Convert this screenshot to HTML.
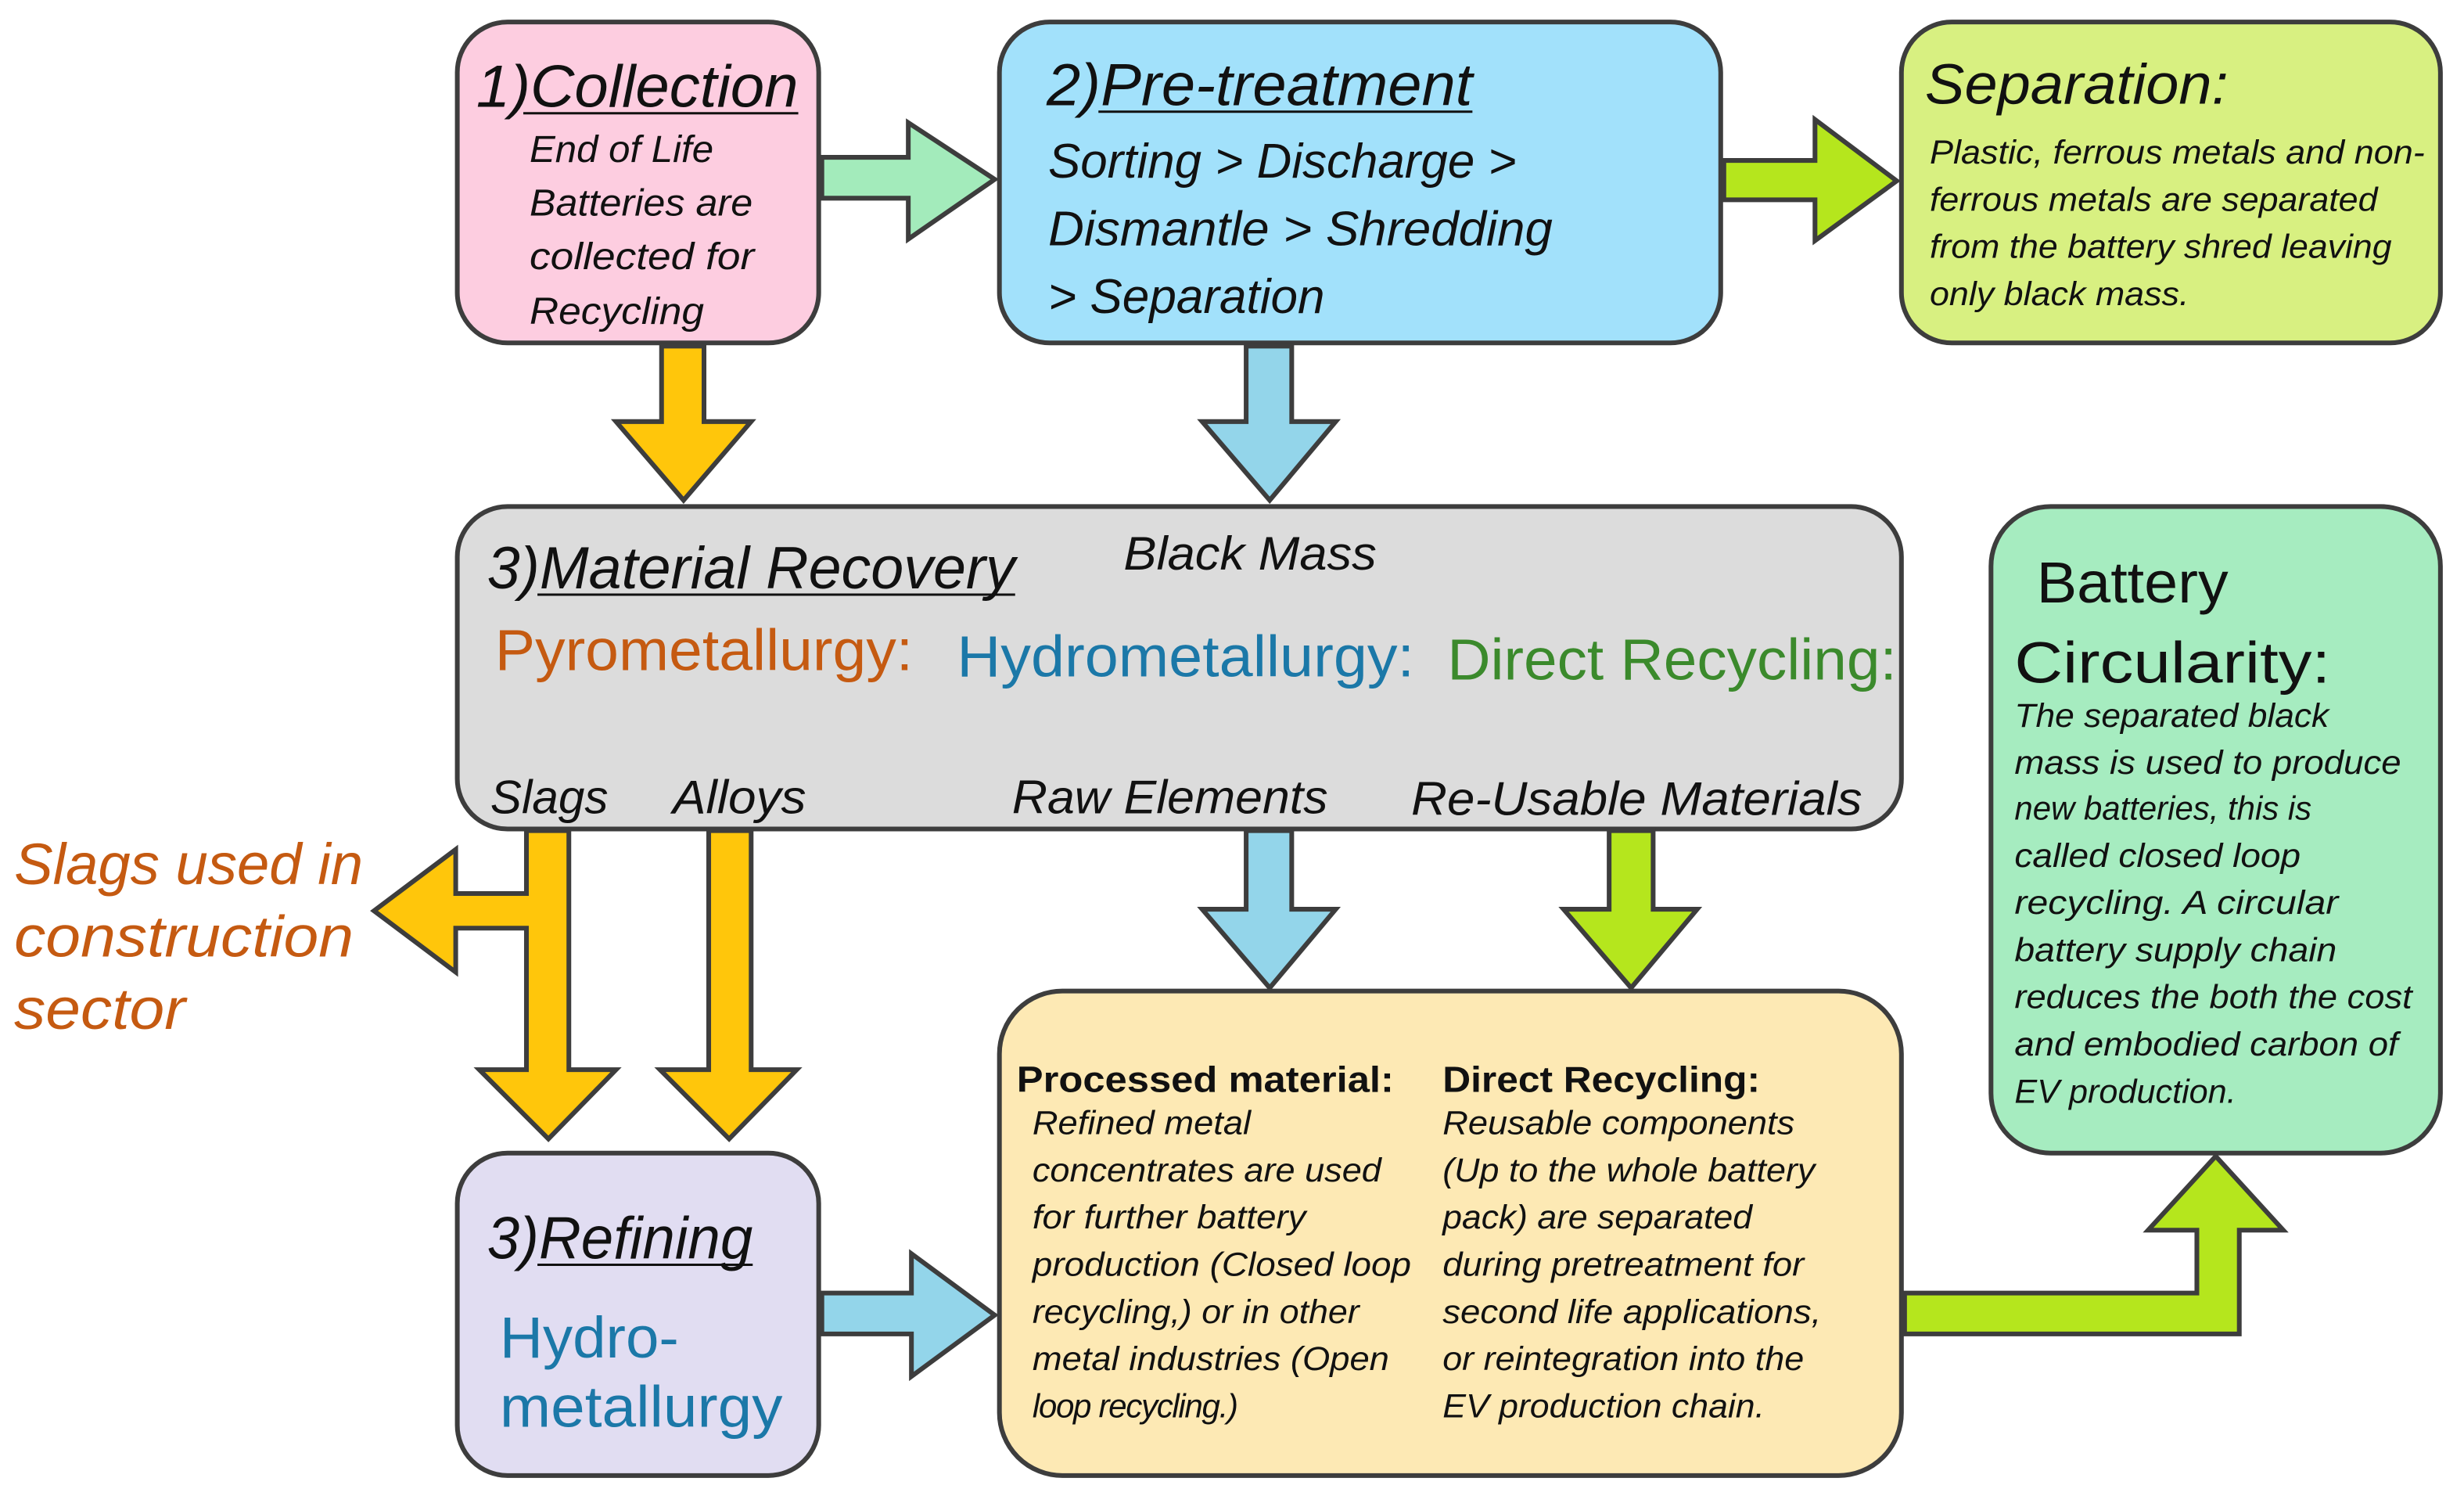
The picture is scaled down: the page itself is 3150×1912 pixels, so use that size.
<!DOCTYPE html>
<html><head><meta charset="utf-8"><style>
html,body{margin:0;padding:0;background:#fff;width:3150px;height:1912px;overflow:hidden}
svg{display:block}
text{font-family:"Liberation Sans Narrow","Liberation Sans",sans-serif;fill:#111}
.i{font-style:italic}
</style></head><body>
<svg width="3150" height="1912" viewBox="0 0 1568 951" preserveAspectRatio="none" xmlns="http://www.w3.org/2000/svg">
<g stroke="#3d3d3d" stroke-width="3" stroke-linejoin="miter">
<rect x="291" y="14" width="230" height="204" rx="32" fill="#fdcde0"/>
<rect x="636" y="14" width="459" height="204" rx="32" fill="#a2e1fb"/>
<rect x="1210" y="14" width="343" height="204" rx="32" fill="#d8f081"/>
<rect x="291" y="322" width="919" height="205" rx="32" fill="#dcdcdc"/>
<rect x="1267" y="322" width="286" height="411" rx="38" fill="#a6ecc0"/>
<rect x="291" y="733" width="230" height="205" rx="32" fill="#e1ddf2"/>
<rect x="636" y="630" width="574" height="308" rx="40" fill="#fde9b4"/>
<polygon points="523,100 578,100 578,78 633,114 578,152 578,126 523,126" fill="#a3ebbb"/>
<polygon points="1097,102 1155,102 1155,76 1207,115 1155,153 1155,127 1097,127" fill="#b5e61d"/>
<polygon points="421,220 448,220 448,268 478,268 435,318 392,268 421,268" fill="#ffc60b"/>
<polygon points="793,220 822,220 822,268 850,268 808,318 765,268 793,268" fill="#93d5ea"/>
<polygon points="335,528 362,528 362,680 392,680 349,724 305,680 335,680 335,590 290,590 290,618 238,579 290,540 290,568 335,568" fill="#ffc60b"/>
<polygon points="451,528 478,528 478,680 507,680 464,724 420,680 451,680" fill="#ffc60b"/>
<polygon points="793,528 822,528 822,578 850,578 808,628 765,578 793,578" fill="#93d5ea"/>
<polygon points="1024,528 1052,528 1052,578 1080,578 1038,628 995,578 1024,578" fill="#b5e61d"/>
<polygon points="523,822 580,822 580,797 633,836 580,875 580,848 523,848" fill="#93d5ea"/>
<polygon points="1212,822 1398,822 1398,782 1367,782 1410,735 1453,782 1425,782 1425,848 1212,848" fill="#b5e61d"/>
</g>
<g stroke="#111" stroke-width="1.5">
<line x1="333" y1="72" x2="508" y2="72"/>
<line x1="699" y1="71" x2="937" y2="71"/>
<line x1="342" y1="378" x2="646" y2="378"/>
<line x1="342" y1="804" x2="479" y2="804"/>
</g>
<g class="i">
<text x="303" y="68" font-size="38" textLength="205" lengthAdjust="spacingAndGlyphs">1)Collection</text>
<text x="337" y="103" font-size="24" textLength="117" lengthAdjust="spacingAndGlyphs">End of Life</text>
<text x="337" y="137" font-size="24" textLength="142" lengthAdjust="spacingAndGlyphs">Batteries are</text>
<text x="337" y="171" font-size="24" textLength="143" lengthAdjust="spacingAndGlyphs">collected for</text>
<text x="337" y="206" font-size="24" textLength="111" lengthAdjust="spacingAndGlyphs">Recycling</text>

<text x="666" y="67" font-size="38" textLength="271" lengthAdjust="spacingAndGlyphs">2)Pre-treatment</text>
<text x="667" y="113" font-size="31" textLength="298" lengthAdjust="spacingAndGlyphs">Sorting &gt; Discharge &gt;</text>
<text x="667" y="156" font-size="31" textLength="321" lengthAdjust="spacingAndGlyphs">Dismantle &gt; Shredding</text>
<text x="667" y="199" font-size="31" textLength="176" lengthAdjust="spacingAndGlyphs">&gt; Separation</text>

<text x="1225" y="66" font-size="36" textLength="193" lengthAdjust="spacingAndGlyphs">Separation:</text>
<text x="1228" y="104" font-size="21" textLength="315" lengthAdjust="spacingAndGlyphs">Plastic, ferrous metals and non-</text>
<text x="1228" y="134" font-size="21" textLength="285" lengthAdjust="spacingAndGlyphs">ferrous metals are separated</text>
<text x="1228" y="164" font-size="21" textLength="294" lengthAdjust="spacingAndGlyphs">from the battery shred leaving</text>
<text x="1228" y="194" font-size="21" textLength="165" lengthAdjust="spacingAndGlyphs">only black mass.</text>

<text x="310" y="374" font-size="38" textLength="336" lengthAdjust="spacingAndGlyphs">3)Material Recovery</text>
<text x="715" y="362" font-size="30" textLength="161" lengthAdjust="spacingAndGlyphs">Black Mass</text>
<text x="312" y="517" font-size="30" textLength="75" lengthAdjust="spacingAndGlyphs">Slags</text>
<text x="428" y="517" font-size="30" textLength="85" lengthAdjust="spacingAndGlyphs">Alloys</text>
<text x="644" y="517" font-size="30" textLength="201" lengthAdjust="spacingAndGlyphs">Raw Elements</text>
<text x="898" y="518" font-size="30" textLength="287" lengthAdjust="spacingAndGlyphs">Re-Usable Materials</text>

<text x="9" y="562" font-size="37" style="fill:#c55a11" textLength="222" lengthAdjust="spacingAndGlyphs">Slags used in</text>
<text x="9" y="608" font-size="37" style="fill:#c55a11" textLength="216" lengthAdjust="spacingAndGlyphs">construction</text>
<text x="9" y="654" font-size="37" style="fill:#c55a11" textLength="109" lengthAdjust="spacingAndGlyphs">sector</text>

<text x="1282" y="462" font-size="21" textLength="200" lengthAdjust="spacingAndGlyphs">The separated black</text>
<text x="1282" y="492" font-size="21" textLength="246" lengthAdjust="spacingAndGlyphs">mass  is used to produce</text>
<text x="1282" y="521" font-size="21" textLength="189" lengthAdjust="spacingAndGlyphs">new batteries, this is</text>
<text x="1282" y="551" font-size="21" textLength="182" lengthAdjust="spacingAndGlyphs">called closed loop</text>
<text x="1282" y="581" font-size="21" textLength="206" lengthAdjust="spacingAndGlyphs">recycling. A circular</text>
<text x="1282" y="611" font-size="21" textLength="205" lengthAdjust="spacingAndGlyphs">battery  supply chain</text>
<text x="1282" y="641" font-size="21" textLength="253" lengthAdjust="spacingAndGlyphs">reduces the both the cost</text>
<text x="1282" y="671" font-size="21" textLength="244" lengthAdjust="spacingAndGlyphs">and embodied carbon of</text>
<text x="1282" y="701" font-size="21" textLength="141" lengthAdjust="spacingAndGlyphs">EV production.</text>

<text x="310" y="800" font-size="38" textLength="169" lengthAdjust="spacingAndGlyphs">3)Refining</text>

<text x="657" y="721" font-size="21" textLength="139" lengthAdjust="spacingAndGlyphs">Refined metal</text>
<text x="657" y="751" font-size="21" textLength="222" lengthAdjust="spacingAndGlyphs">concentrates are used</text>
<text x="657" y="781" font-size="21" textLength="174" lengthAdjust="spacingAndGlyphs">for further battery</text>
<text x="657" y="811" font-size="21" textLength="241" lengthAdjust="spacingAndGlyphs">production (Closed loop</text>
<text x="657" y="841" font-size="21" textLength="208" lengthAdjust="spacingAndGlyphs">recycling,) or in other</text>
<text x="657" y="871" font-size="21" textLength="227" lengthAdjust="spacingAndGlyphs">metal industries (Open</text>
<text x="657" y="901" font-size="21" textLength="131" lengthAdjust="spacing">loop recycling.)</text>

<text x="918" y="721" font-size="21" textLength="224" lengthAdjust="spacingAndGlyphs">Reusable components</text>
<text x="918" y="751" font-size="21" textLength="237" lengthAdjust="spacingAndGlyphs">(Up to the whole battery</text>
<text x="918" y="781" font-size="21" textLength="197" lengthAdjust="spacingAndGlyphs">pack) are separated</text>
<text x="918" y="811" font-size="21" textLength="230" lengthAdjust="spacingAndGlyphs">during pretreatment for</text>
<text x="918" y="841" font-size="21" textLength="241" lengthAdjust="spacingAndGlyphs">second life applications,</text>
<text x="918" y="871" font-size="21" textLength="230" lengthAdjust="spacingAndGlyphs">or reintegration into the</text>
<text x="918" y="901" font-size="21" textLength="205" lengthAdjust="spacingAndGlyphs">EV production chain.</text>
</g>
<text x="315" y="426" font-size="37" style="fill:#c55a11" textLength="266" lengthAdjust="spacingAndGlyphs">Pyrometallurgy:</text>
<text x="609" y="430" font-size="37" style="fill:#1b78a8" textLength="291" lengthAdjust="spacingAndGlyphs">Hydrometallurgy:</text>
<text x="921" y="432" font-size="37" style="fill:#3b8a2c" textLength="286" lengthAdjust="spacingAndGlyphs">Direct Recycling:</text>
<text x="1296" y="383" font-size="37" textLength="122" lengthAdjust="spacingAndGlyphs">Battery</text>
<text x="1282" y="434" font-size="37" textLength="201" lengthAdjust="spacingAndGlyphs">Circularity:</text>
<text x="318" y="863" font-size="37" style="fill:#1b78a8" textLength="114" lengthAdjust="spacingAndGlyphs">Hydro-</text>
<text x="318" y="907" font-size="37" style="fill:#1b78a8" textLength="180" lengthAdjust="spacingAndGlyphs">metallurgy</text>
<text x="647" y="694" font-size="23" font-weight="bold" textLength="240" lengthAdjust="spacingAndGlyphs">Processed material:</text>
<text x="918" y="694" font-size="23" font-weight="bold" textLength="202" lengthAdjust="spacingAndGlyphs">Direct Recycling:</text>
</svg>
</body></html>
